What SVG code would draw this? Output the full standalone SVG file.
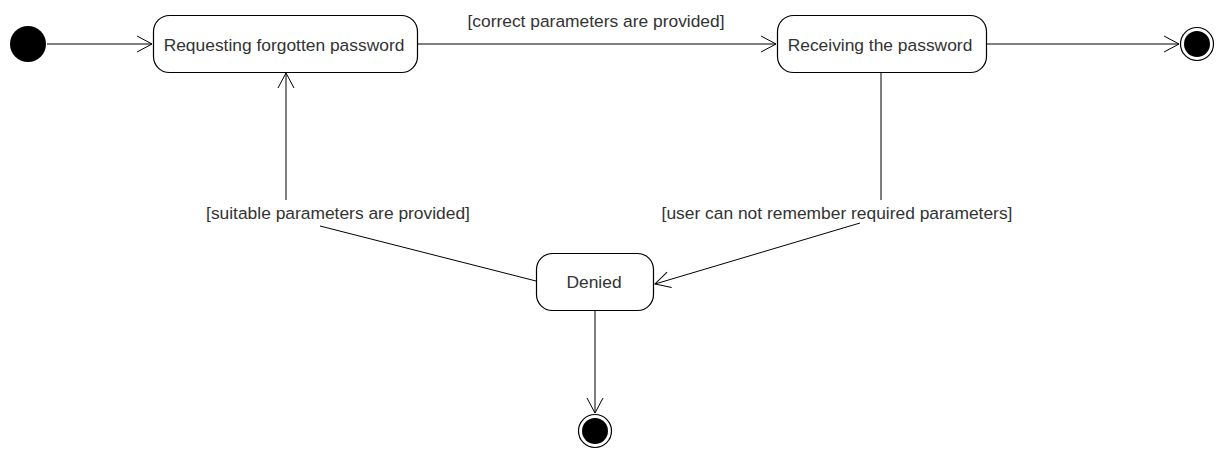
<svg xmlns="http://www.w3.org/2000/svg" width="1224" height="450" viewBox="0 0 1224 450">
<style>
.st{fill:#fff;stroke:#000;stroke-width:1.2}
.lbl{font-family:"Liberation Sans",Arial,sans-serif;font-size:17.4px;fill:#333}
.c{fill:none;stroke:#000;stroke-width:1}
</style>
<defs>
<marker id="arr" markerWidth="20" markerHeight="20" refX="16" refY="10" orient="auto" markerUnits="userSpaceOnUse">
<path d="M1,2 L16,10 L1,18" fill="none" stroke="#000" stroke-width="1"/>
</marker>
</defs>
<rect width="1224" height="450" fill="#fff"/>
<g id="connectors">
<line class="c" x1="47" y1="44" x2="152" y2="44" marker-end="url(#arr)"/>
<line class="c" x1="418" y1="44" x2="776" y2="44" marker-end="url(#arr)"/>
<line class="c" x1="987" y1="44" x2="1179" y2="44" marker-end="url(#arr)"/>
<polyline class="c" points="881,72 881,200"/>
<line class="c" x1="860" y1="223" x2="655" y2="284" marker-end="url(#arr)"/>
<line class="c" x1="536" y1="281" x2="320" y2="226"/>
<line class="c" x1="286" y1="200" x2="286" y2="73" marker-end="url(#arr)"/>
<line class="c" x1="595" y1="310" x2="595" y2="413" marker-end="url(#arr)"/>
<text class="lbl" x="596" y="26.5" text-anchor="middle">[correct parameters are provided]</text>
<text class="lbl" x="837" y="219" text-anchor="middle">[user can not remember required parameters]</text>
<text class="lbl" x="338" y="219" text-anchor="middle">[suitable parameters are provided]</text>
</g>
<g id="initial">
<circle cx="28" cy="44" r="18" fill="#000"/>
</g>
<g id="requesting">
<rect class="st" x="153.5" y="15.5" width="264" height="57" rx="16"/>
<text class="lbl" x="284" y="50.5" text-anchor="middle">Requesting forgotten password</text>
</g>
<g id="receiving">
<rect class="st" x="777.5" y="15.5" width="209" height="57" rx="16"/>
<text class="lbl" x="880" y="50.5" text-anchor="middle">Receiving the password</text>
</g>
<g id="denied">
<rect class="st" x="536.5" y="253.5" width="117" height="57" rx="16"/>
<text class="lbl" x="594" y="287.5" text-anchor="middle">Denied</text>
</g>
<g id="final1">
<circle cx="1197" cy="44" r="16.5" fill="#fff" stroke="#000" stroke-width="1.2"/>
<circle cx="1197" cy="44" r="13" fill="#000"/>
</g>
<g id="final2">
<circle cx="595" cy="431" r="16.5" fill="#fff" stroke="#000" stroke-width="1.2"/>
<circle cx="595" cy="431" r="13" fill="#000"/>
</g>
</svg>
